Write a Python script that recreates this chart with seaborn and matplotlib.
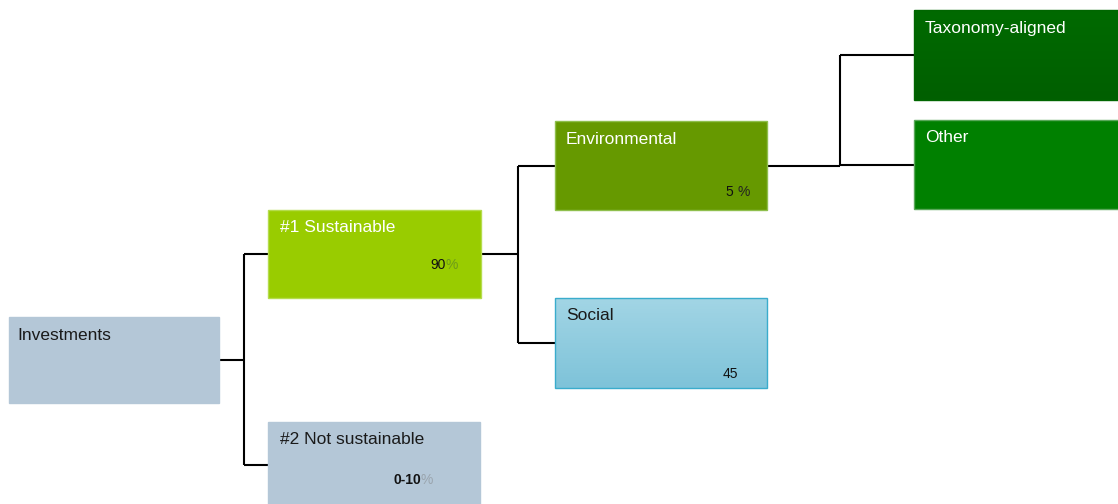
import matplotlib
matplotlib.use('Agg')
import matplotlib.pyplot as plt
from matplotlib.patches import Rectangle
import numpy as np
import seaborn as sns

# node data
nodes = ['Investments', '#1 Sustainable', '#2 Not sustainable',
         'Environmental', 'Social', 'Taxonomy-aligned', 'Other']
shares = ['', '90', '0-10', '5 ', '45', '', '']
pct_sign = [False, True, True, True, False, False, False]
parents = [None, 0, 0, 1, 1, 3, 3]

# layout (pixel space, y down)
box_x = [9, 268, 268, 555, 555, 914, 914]
box_y = [317, 210, 422, 121, 298, 10, 120]
box_w = [210, 213, 212, 212, 212, 206, 206]
box_h = [86, 88, 86, 89, 90, 90, 89]
label_dx = [8, 12, 12, 11, 11, 11, 11]
val_x = [0, 430, 393, 726, 723, 0, 0]
val_y = [0, 265, 480, 192, 374, 0, 0]
val_weight = ['normal', 'normal', 'bold', 'normal', 'normal', 'normal', 'normal']
elbow_x = [244, 518, 840]
fill_top = ['#b4c7d7', '#99cc00', '#b4c7d7', '#669900', '#a2d5e5', '#006a00', '#008000']
fill_bot = ['#b4c7d7', '#99cc00', '#b4c7d7', '#669900', '#7ec3d9', '#005f00', '#008000']
edge = ['#b4c7d7', '#b5dc4d', '#b4c7d7', '#8fbf4d', '#3aaccc', '#006600', '#5aa85a']
text_col = ['#1a1a1a', 'white', '#1a1a1a', 'white', '#1a1a1a', 'white', 'white']
pct_col = [None, '#6d9a1a', '#9aa4ad', '#222222', None, None, None]

sns.set_theme(style='white')
plt.rcParams['font.family'] = ['Liberation Sans', 'DejaVu Sans']

fig = plt.figure(figsize=(11.18, 5.04), dpi=100)
ax = fig.add_axes([0, 0, 1, 1])
ax.set_xlim(0, 1118)
ax.set_ylim(504, 0)
ax.axis('off')

# boxes
for i, name in enumerate(nodes):
    x, y, w, h = box_x[i], box_y[i], box_w[i], box_h[i]
    if fill_top[i] != fill_bot[i]:
        c1 = np.array(matplotlib.colors.to_rgb(fill_top[i]))
        c2 = np.array(matplotlib.colors.to_rgb(fill_bot[i]))
        t = np.linspace(0, 1, 64)[:, None]
        grad = (c1 * (1 - t) + c2 * t)[:, None, :]
        ax.imshow(grad, extent=(x, x + w, y + h, y), aspect='auto', zorder=1)
        ax.add_patch(Rectangle((x, y), w, h, fill=False, ec=edge[i], lw=1, zorder=2))
    else:
        ax.add_patch(Rectangle((x, y), w, h, fc=fill_top[i], ec=edge[i], lw=1, zorder=2))
    ax.text(x + label_dx[i], y + 18, name, color=text_col[i], fontsize=12.5,
            va='center', ha='left', zorder=3)
    if shares[i]:
        t1 = ax.text(val_x[i], val_y[i], shares[i], color='#111111', fontsize=10,
                     fontweight=val_weight[i], va='center', ha='left', zorder=3)
        if pct_sign[i]:
            ax.annotate('%', xy=(1, 0.5), xycoords=t1, color=pct_col[i],
                        fontsize=10, va='center', ha='left', zorder=3)

# connectors
lk = dict(color='black', lw=1.5, zorder=0, solid_capstyle='butt')
for k, p in enumerate([0, 1, 3]):
    kids = [i for i, q in enumerate(parents) if q == p]
    py = box_y[p] + box_h[p] / 2
    ex = elbow_x[k]
    ax.plot([box_x[p] + box_w[p], ex], [py, py], **lk)
    ys = [box_y[c] + box_h[c] / 2 for c in kids] + [py]
    ax.plot([ex, ex], [min(ys), max(ys)], **lk)
    for c in kids:
        cy = box_y[c] + box_h[c] / 2
        ax.plot([ex, box_x[c]], [cy, cy], **lk)

fig.savefig('out.png', dpi=100)
